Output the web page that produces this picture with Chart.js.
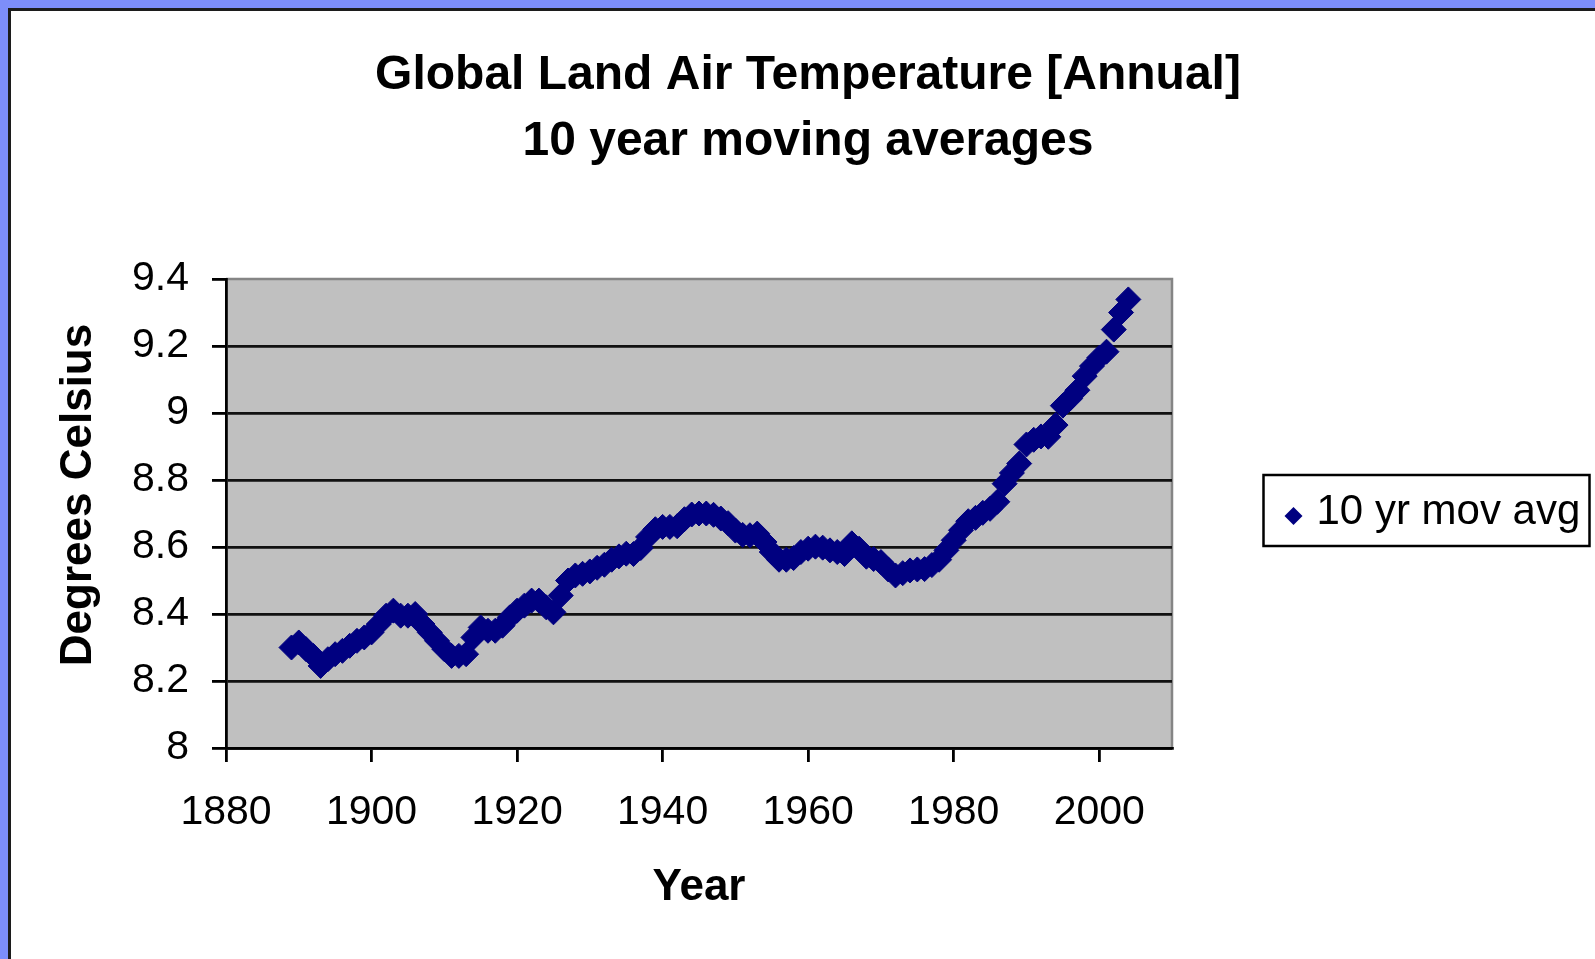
<!DOCTYPE html>
<html>
<head>
<meta charset="utf-8">
<title>Global Land Air Temperature [Annual]</title>
<script src="https://cdn.jsdelivr.net/npm/chart.js@4.4.1/dist/chart.umd.min.js"></script>
<style>
  html, body { margin: 0; padding: 0; }
  body { background: #7d8efa; width: 1595px; height: 959px; overflow: hidden; position: relative; }
  #frame {
    position: absolute; left: 8px; top: 8px; width: 1600px; height: 960px;
    background: #ffffff; border-top: 3px solid #1c1c1c; border-left: 3px solid #1c1c1c;
  }
  #chart { display: block; }
</style>
</head>
<body>
<div id="frame"><canvas id="chart" width="1584" height="948"></canvas></div>
<script>
// Year of each 10-year moving average (end year of the window)
const years = [
  1889, 1890, 1891, 1892, 1893, 1894, 1895, 1896, 1897, 1898,
  1899, 1900, 1901, 1902, 1903, 1904, 1905, 1906, 1907, 1908,
  1909, 1910, 1911, 1912, 1913, 1914, 1915, 1916, 1917, 1918,
  1919, 1920, 1921, 1922, 1923, 1924, 1925, 1926, 1927, 1928,
  1929, 1930, 1931, 1932, 1933, 1934, 1935, 1936, 1937, 1938,
  1939, 1940, 1941, 1942, 1943, 1944, 1945, 1946, 1947, 1948,
  1949, 1950, 1951, 1952, 1953, 1954, 1955, 1956, 1957, 1958,
  1959, 1960, 1961, 1962, 1963, 1964, 1965, 1966, 1967, 1968,
  1969, 1970, 1971, 1972, 1973, 1974, 1975, 1976, 1977, 1978,
  1979, 1980, 1981, 1982, 1983, 1984, 1985, 1986, 1987, 1988,
  1989, 1990, 1991, 1992, 1993, 1994, 1995, 1996, 1997, 1998,
  1999, 2000, 2001, 2002, 2003, 2004
];

// 10 yr moving average of global land air temperature, degrees Celsius
const movingAvg = [
  8.300, 8.315, 8.295, 8.275, 8.245, 8.265, 8.280, 8.290, 8.305, 8.320,
  8.330, 8.345, 8.370, 8.395, 8.410, 8.395, 8.395, 8.400, 8.370, 8.345,
  8.320, 8.295, 8.275, 8.275, 8.280, 8.330, 8.360, 8.350, 8.350, 8.365,
  8.390, 8.410, 8.425, 8.440, 8.440, 8.420, 8.405, 8.455, 8.500, 8.515,
  8.520, 8.527, 8.538, 8.547, 8.562, 8.572, 8.580, 8.579, 8.597, 8.630,
  8.653, 8.660, 8.660, 8.662, 8.683, 8.697, 8.700, 8.700, 8.696, 8.685,
  8.671, 8.649, 8.636, 8.635, 8.640, 8.615, 8.585, 8.562, 8.562, 8.567,
  8.585, 8.595, 8.601, 8.598, 8.590, 8.585, 8.579, 8.611, 8.595, 8.571,
  8.564, 8.555, 8.533, 8.515, 8.522, 8.530, 8.533, 8.534, 8.546, 8.562,
  8.590, 8.620, 8.650, 8.677, 8.687, 8.702, 8.714, 8.735, 8.789, 8.821,
  8.849, 8.906, 8.920, 8.930, 8.929, 8.964, 9.022, 9.043, 9.068, 9.110,
  9.140, 9.165, 9.183, 9.249, 9.300, 9.339
];

const seriesName = '10 yr mov avg';
const titleLines = ['Global Land Air Temperature [Annual]', '10 year moving averages'];
const xAxisTitle = 'Year';
const yAxisTitle = 'Degrees Celsius';

const xTickLabels = ['1880', '1900', '1920', '1940', '1960', '1980', '2000'];
const yTickLabels = ['8', '8.2', '8.4', '8.6', '8.8', '9', '9.2', '9.4'];

const FONT = '"Liberation Sans", Arial, Helvetica, sans-serif';
const NAVY = '#000080';

Chart.defaults.font.family = FONT;
Chart.defaults.color = '#000';

// grey plot area with its grey top/right frame
const plotFrame = {
  id: 'plotFrame',
  beforeDraw(chart) {
    const { ctx, chartArea: a } = chart;
    ctx.save();
    ctx.fillStyle = '#c0c0c0';
    ctx.fillRect(a.left, a.top, a.right - a.left, a.bottom - a.top);
    ctx.strokeStyle = '#858585';
    ctx.lineWidth = 2.5;
    ctx.beginPath();
    ctx.moveTo(a.left, a.top);
    ctx.lineTo(a.right, a.top);
    ctx.lineTo(a.right, a.bottom);
    ctx.stroke();
    ctx.restore();
  }
};

// rotated value-axis title
const sideTitle = {
  id: 'sideTitle',
  afterDraw(chart, args, o) {
    const ctx = chart.ctx;
    ctx.save();
    ctx.translate(o.x, o.y);
    ctx.rotate(-Math.PI / 2);
    ctx.font = 'bold ' + o.size + 'px ' + FONT;
    ctx.fillStyle = '#000';
    ctx.textAlign = 'center';
    ctx.textBaseline = 'middle';
    ctx.fillText(o.text, 0, 0);
    ctx.restore();
  }
};

// boxed legend to the right of the plot
const boxLegend = {
  id: 'boxLegend',
  afterDraw(chart, args, o) {
    const ctx = chart.ctx;
    const ds = chart.data.datasets[0];
    ctx.save();
    ctx.fillStyle = '#fff';
    ctx.fillRect(o.left, o.top, o.width, o.height);
    ctx.strokeStyle = '#000';
    ctx.lineWidth = 2.5;
    ctx.strokeRect(o.left, o.top, o.width, o.height);
    const mx = o.left + o.markerX, my = o.top + o.markerY, r = o.markerR;
    ctx.fillStyle = ds.backgroundColor;
    ctx.beginPath();
    ctx.moveTo(mx, my - r);
    ctx.lineTo(mx + r, my);
    ctx.lineTo(mx, my + r);
    ctx.lineTo(mx - r, my);
    ctx.closePath();
    ctx.fill();
    ctx.fillStyle = '#000';
    ctx.font = o.size + 'px ' + FONT;
    ctx.textAlign = 'left';
    ctx.textBaseline = 'middle';
    ctx.fillText(ds.label, o.left + o.textX, o.top + o.textY);
    ctx.restore();
  }
};

const points = years.map((yr, i) => ({ x: yr, y: movingAvg[i] }));

new Chart(document.getElementById('chart'), {
  type: 'scatter',
  data: {
    datasets: [{
      label: seriesName,
      data: points,
      pointStyle: 'rectRot',
      pointRadius: 12.5,
      pointHoverRadius: 12.5,
      borderWidth: 1,
      backgroundColor: NAVY,
      borderColor: NAVY,
      showLine: false
    }]
  },
  options: {
    responsive: false,
    animation: false,
    devicePixelRatio: 1,
    layout: { padding: { left: 10, right: 0, top: 0, bottom: 0 } },
    plugins: {
      legend: { display: false },
      tooltip: { enabled: false },
      title: {
        display: true,
        text: titleLines,
        color: '#000',
        font: { size: 48, weight: 'bold', lineHeight: 1.375 },
        padding: { top: 32, bottom: 104 }
      },
      sideTitle: { text: yAxisTitle, x: 68, y: 484, size: 44 },
      boxLegend: {
        left: 1252.5, top: 464, width: 326, height: 71,
        markerX: 30, markerY: 41, markerR: 9,
        textX: 53, textY: 37, size: 42
      }
    },
    scales: {
      x: {
        type: 'linear',
        position: 'bottom',
        min: 1880,
        max: 2010,
        afterFit: s => { s.height = 211; },
        ticks: {
          stepSize: 20,
          includeBounds: false,
          padding: 26,
          color: '#000',
          font: { size: 41 },
          maxRotation: 0,
          callback: (v) => xTickLabels[xTickLabels.indexOf(String(v))] ?? ''
        },
        grid: {
          drawOnChartArea: false,
          drawTicks: true,
          tickLength: 14,
          tickColor: '#000',
          lineWidth: 2.8
        },
        border: { display: true, color: '#000', width: 2.8 },
        title: {
          display: true,
          text: xAxisTitle,
          color: '#000',
          font: { size: 44, weight: 'bold', lineHeight: 1.2 },
          padding: { top: 0, bottom: 45 }
        }
      },
      y: {
        type: 'linear',
        position: 'left',
        min: 8,
        max: 9.4,
        afterFit: s => { s.width = 205; },
        ticks: {
          stepSize: 0.2,
          padding: 23,
          color: '#000',
          font: { size: 41 },
          callback: (v, i) => yTickLabels[i]
        },
        grid: {
          drawTicks: true,
          tickLength: 14,
          tickColor: '#000',
          lineWidth: 2.8,
          color: (c) => (c.index === yTickLabels.length - 1 ? 'rgba(0,0,0,0)' : '#111111')
        },
        border: { display: true, color: '#000', width: 2.8 }
      },
      side: {
        type: 'linear',
        position: 'right',
        display: true,
        afterFit: s => { s.width = 423; },
        ticks: { display: false },
        grid: { display: false, drawTicks: false },
        border: { display: false }
      }
    }
  },
  plugins: [plotFrame, sideTitle, boxLegend]
});
</script>
</body>
</html>
